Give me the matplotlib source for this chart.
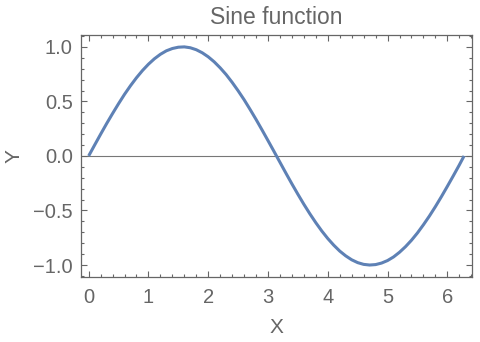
import matplotlib.pyplot as plt
from matplotlib.ticker import MultipleLocator

# ===================== DATA =====================
x_vals = [0.0, 0.1, 0.2, 0.3, 0.4, 0.5, 0.6, 0.7, 0.8, 0.9,
          1.0, 1.1, 1.2, 1.3, 1.4, 1.5, 1.6, 1.7, 1.8, 1.9,
          2.0, 2.1, 2.2, 2.3, 2.4, 2.5, 2.6, 2.7, 2.8, 2.9,
          3.0, 3.1, 3.2, 3.3, 3.4, 3.5, 3.6, 3.7, 3.8, 3.9,
          4.0, 4.1, 4.2, 4.3, 4.4, 4.5, 4.6, 4.7, 4.8, 4.9,
          5.0, 5.1, 5.2, 5.3, 5.4, 5.5, 5.6, 5.7, 5.8, 5.9,
          6.0, 6.1, 6.2, 6.28]
y_vals = [0.000, 0.100, 0.199, 0.296, 0.389, 0.479, 0.565, 0.644, 0.717, 0.783,
          0.841, 0.891, 0.932, 0.964, 0.985, 0.997, 1.000, 0.992, 0.974, 0.946,
          0.909, 0.863, 0.808, 0.746, 0.675, 0.598, 0.516, 0.427, 0.335, 0.239,
          0.141, 0.042, -0.058, -0.158, -0.256, -0.351, -0.443, -0.530, -0.612, -0.688,
          -0.757, -0.818, -0.872, -0.916, -0.952, -0.978, -0.994, -1.000, -0.996, -0.982,
          -0.959, -0.926, -0.883, -0.832, -0.773, -0.706, -0.631, -0.551, -0.465, -0.374,
          -0.279, -0.182, -0.083, 0.000]
x_ticks = [0, 1, 2, 3, 4, 5, 6]
y_ticks = [-1.0, -0.5, 0.0, 0.5, 1.0]

# ===================== STYLE =====================
plt.rcParams['font.family'] = ['Liberation Sans', 'DejaVu Sans']
GRAY = '#666666'
LINE = '#5E81B5'

fig = plt.figure(figsize=(4.8, 3.42), dpi=100)
ax = fig.add_axes([0.169, 0.190, 0.814, 0.708])

ax.axhline(0, color='#777777', lw=0.8, zorder=1)
ax.plot(x_vals, y_vals, color=LINE, lw=2.2, zorder=2,
        solid_joinstyle='round', solid_capstyle='butt')

ax.set_xlim(-0.126, 6.41)
ax.set_ylim(-1.11, 1.11)
ax.set_xticks(x_ticks)
ax.set_yticks(y_ticks)
ax.set_yticklabels([f'{v:.1f}'.replace('-', '\u2212') for v in y_ticks])
ax.xaxis.set_minor_locator(MultipleLocator(0.2))
ax.yaxis.set_minor_locator(MultipleLocator(0.1))

for sp in ax.spines.values():
    sp.set_color(GRAY)
    sp.set_linewidth(0.9)
ax.tick_params(which='both', direction='in', top=True, right=True, colors=GRAY,
               labelcolor=GRAY, labelsize=14.5, width=0.8)
ax.tick_params(which='major', length=4, pad=6)
ax.tick_params(which='minor', length=2)
ax.tick_params(axis='x', which='major', pad=8)

ax.set_title('Sine function', color=GRAY, fontsize=16.5, pad=8)
ax.set_xlabel('X', color=GRAY, fontsize=15, labelpad=8)
ax.set_ylabel('Y', color=GRAY, fontsize=15, labelpad=7)

fig.savefig('out.png', dpi=100)
